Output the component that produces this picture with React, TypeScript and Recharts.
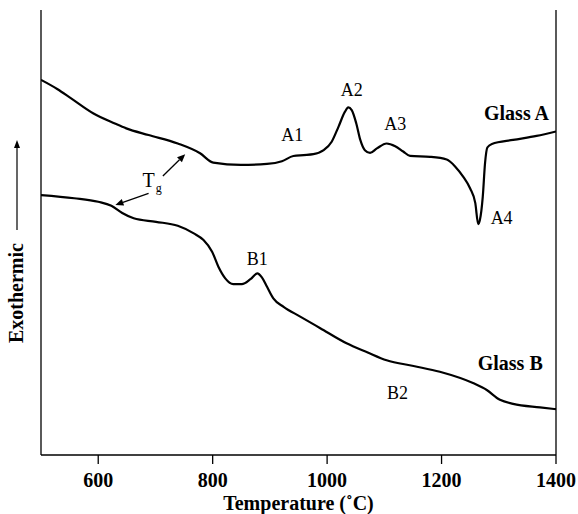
import React from 'react';
import { LineChart, Line, XAxis, YAxis, ReferenceDot, ReferenceLine } from 'recharts';

// DTA traces (temperature in °C, signal in arbitrary units)
const glassATemp = [500, 529, 552, 591, 629, 649, 688, 739, 778, 801, 849, 895, 921, 941, 959, 976, 994, 1008, 1020, 1031, 1037, 1043, 1051, 1058, 1066, 1075, 1087, 1104, 1119, 1133, 1145, 1180, 1209, 1224, 1238, 1250, 1259, 1264, 1267, 1272, 1276, 1280, 1288, 1325, 1366, 1400];
const glassAValue = [84.3, 82.2, 80.2, 76.8, 74.5, 73.4, 71.9, 70.0, 67.8, 65.7, 65.2, 65.4, 66.0, 67.2, 67.4, 67.6, 68.5, 70.4, 73.8, 77.1, 78.1, 77.5, 74.5, 70.8, 68.5, 67.9, 68.9, 70.0, 69.4, 68.2, 67.2, 67.0, 66.4, 64.8, 62.5, 59.9, 56.6, 51.9, 52.8, 58.0, 65.6, 69.1, 69.9, 70.8, 71.7, 72.7];

const glassBTemp = [500, 558, 600, 623, 642, 662, 701, 739, 767, 784, 799, 810, 822, 836, 851, 866, 878, 886, 895, 906, 924, 953, 988, 1034, 1070, 1104, 1151, 1197, 1256, 1279, 1302, 1325, 1372, 1400];
const glassBValue = [58.4, 57.7, 56.9, 56.0, 54.4, 53.2, 52.4, 51.5, 49.8, 48.3, 45.7, 42.3, 39.7, 38.4, 38.4, 39.5, 40.8, 39.9, 37.8, 35.2, 33.3, 31.1, 28.5, 25.1, 23.1, 21.3, 20.0, 18.7, 16.1, 14.6, 12.4, 11.5, 10.7, 10.3];

const tempTicks = [600, 800, 1000, 1200, 1400];

const peakNames = ['A1', 'A2', 'A3', 'A4', 'B1', 'B2'];
const peakTemp = [939, 1043, 1119, 1305, 878, 1123];
const peakValue = [72.0, 82.0, 74.4, 53.2, 44.0, 13.9];

const glassNames = ['Glass A', 'Glass B'];
const glassNameTemp = [1331, 1320];
const glassNameValue = [76.8, 20.6];

// Tg arrows: [from, to] as (temperature, signal)
const tgArrows = [
  [[713, 62.7], [752, 67.6]],
  [[688, 58.8], [630, 56.2]],
];

const glassA = glassATemp.map((t, i) => ({ t, v: glassAValue[i] }));
const glassB = glassBTemp.map((t, i) => ({ t, v: glassBValue[i] }));

const FONT = '"Liberation Serif", "Times New Roman", serif';

const Arrow = (props: any) => {
  const { x1, y1, x2, y2 } = props;
  const a = Math.atan2(y2 - y1, x2 - x1);
  const len = 8;
  const hw = 3.5;
  const bx = x2 - len * Math.cos(a);
  const by = y2 - len * Math.sin(a);
  const px = -Math.sin(a) * hw;
  const py = Math.cos(a) * hw;
  return (
    <g>
      <line x1={x1} y1={y1} x2={bx} y2={by} stroke="#000" strokeWidth={1.3} />
      <polygon points={`${x2},${y2} ${bx + px},${by + py} ${bx - px},${by - py}`} fill="#000" />
    </g>
  );
};

// y-axis title with its upward arrow, anchored at the left edge of the plot
const ExoLabel = (p: any) => {
  const tx = p.cx - 18;
  const ty = p.cy;
  const ax = p.cx - 24;
  const top = ty - 153;
  const bot = ty - 63;
  return (
    <g>
      <text x={tx} y={ty} transform={`rotate(-90, ${tx}, ${ty})`} textAnchor="middle" fontFamily={FONT} fontWeight="bold" fontSize={20} fill="#000">
        Exothermic
      </text>
      <line x1={ax} y1={bot} x2={ax} y2={top + 7} stroke="#000" strokeWidth={1.2} />
      <polygon points={`${ax},${top} ${ax - 3},${top + 8} ${ax + 3},${top + 8}`} fill="#000" />
    </g>
  );
};

export default function App() {
  return (
    <div style={{ position: 'absolute', left: 0, top: 0, background: '#fff' }}>
      <LineChart width={578} height={514} margin={{ top: 10, right: 22, bottom: 0, left: 41 }}>
        <XAxis
          type="number"
          dataKey="t"
          domain={[500, 1400]}
          ticks={tempTicks}
          allowDataOverflow
          height={59}
          tickSize={9}
          tickMargin={9}
          axisLine={{ stroke: '#000', strokeWidth: 1.3 }}
          tickLine={{ stroke: '#000', strokeWidth: 1.3 }}
          tick={{ fill: '#000', fontFamily: FONT, fontWeight: 'bold', fontSize: 20 }}
          label={{ value: 'Temperature (˚C)', position: 'insideBottom', offset: 4, fill: '#000', fontFamily: FONT, fontWeight: 'bold', fontSize: 20 }}
        />
        <YAxis type="number" domain={[0, 100]} hide />
        <ReferenceLine x={500} stroke="#000" strokeWidth={1.3} />
        <ReferenceLine x={1400} stroke="#000" strokeWidth={1.3} />
        <Line data={glassA} dataKey="v" type="monotone" stroke="#000" strokeWidth={2.2} dot={false} isAnimationActive={false} />
        <Line data={glassB} dataKey="v" type="monotone" stroke="#000" strokeWidth={2.2} dot={false} isAnimationActive={false} />
        <ReferenceDot x={500} y={36.4} ifOverflow="visible" shape={ExoLabel} />
        {peakNames.map((name, i) => (
          <ReferenceDot
            key={name}
            x={peakTemp[i]}
            y={peakValue[i]}
            ifOverflow="visible"
            shape={(p: any) => (
              <text x={p.cx} y={p.cy} textAnchor="middle" dominantBaseline="central" fontFamily={FONT} fontSize={18} fill="#000">
                {name}
              </text>
            )}
          />
        ))}
        {glassNames.map((name, i) => (
          <ReferenceDot
            key={name}
            x={glassNameTemp[i]}
            y={glassNameValue[i]}
            ifOverflow="visible"
            shape={(p: any) => (
              <text x={p.cx} y={p.cy} textAnchor="middle" dominantBaseline="central" fontFamily={FONT} fontWeight="bold" fontSize={20} fill="#000">
                {name}
              </text>
            )}
          />
        ))}
        <ReferenceDot
          x={688}
          y={61.8}
          ifOverflow="visible"
          shape={(p: any) => (
            <text x={p.cx - 6} y={p.cy} dominantBaseline="central" fontFamily={FONT} fontSize={20} fill="#000">
              T<tspan fontSize={12} dx={1} dy={8}>g</tspan>
            </text>
          )}
        />
        {tgArrows.map((seg, i) => (
          <ReferenceLine
            key={`tg${i}`}
            segment={[{ x: seg[0][0], y: seg[0][1] }, { x: seg[1][0], y: seg[1][1] }]}
            ifOverflow="visible"
            shape={Arrow}
          />
        ))}
      </LineChart>
    </div>
  );
}
